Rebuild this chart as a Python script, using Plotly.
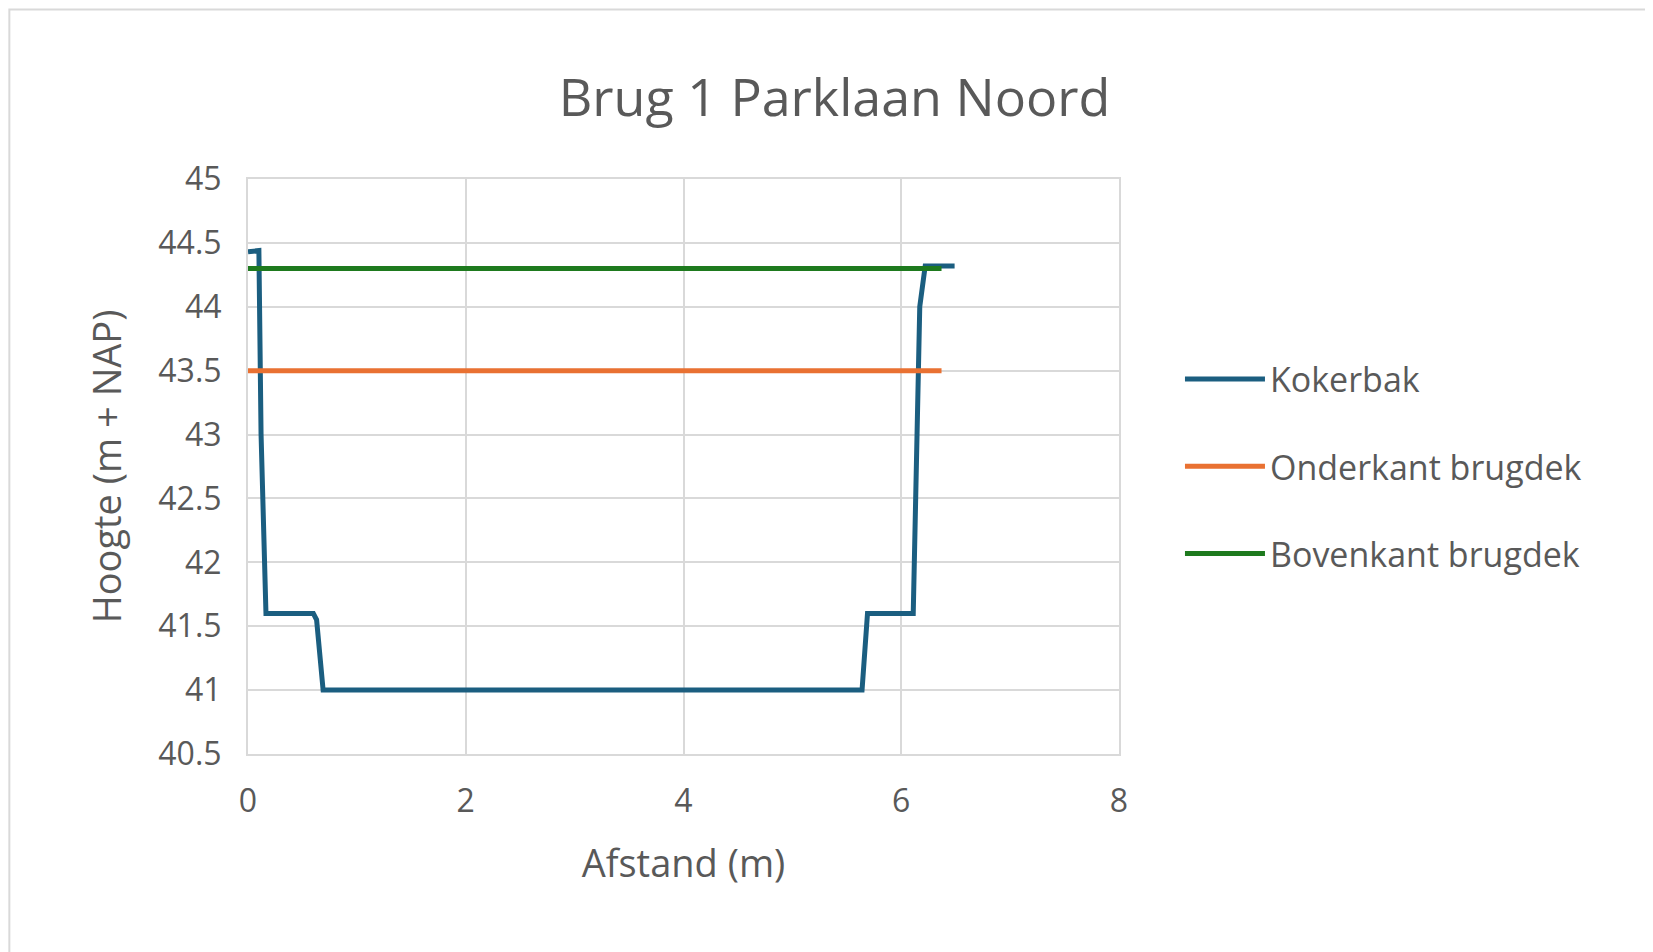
import plotly.graph_objects as go

kx = [0, 0.1, 0.12, 0.165, 0.60, 0.63, 0.69, 5.64, 5.69, 6.11, 6.17, 6.22, 6.49]
ky = [44.43, 44.44, 43.0, 41.60, 41.60, 41.55, 41.0, 41.0, 41.6, 41.6, 44.0, 44.32, 44.32]
ox = [0, 6.37]; oy = [43.5, 43.5]
bx = [0, 6.37]; by = [44.3, 44.3]

fig = go.Figure()
fig.add_trace(go.Scatter(x=kx, y=ky, mode="lines", name="Kokerbak", legendgroup="a", line=dict(color="#1b5e80", width=5)))
fig.add_trace(go.Scatter(x=ox, y=oy, mode="lines", name="Onderkant brugdek", legendgroup="b", line=dict(color="#e97132", width=5)))
fig.add_trace(go.Scatter(x=bx, y=by, mode="lines", name="Bovenkant brugdek", legendgroup="c", line=dict(color="#1e7a1e", width=5)))

grid = "#d9d9d9"
fig.update_layout(
    width=1653, height=952, paper_bgcolor="white", plot_bgcolor="white",
    font=dict(family="Open Sans", color="#595959", size=32),
    title=dict(text="Brug 1 Parklaan Noord", x=0.5, xanchor="center", y=0.925, font=dict(size=52, color="#595959")),
    margin=dict(l=240, r=542, t=171, b=206),
    xaxis=dict(range=[0, 8], dtick=2, showgrid=True, gridcolor=grid, gridwidth=2, showline=True, linecolor=grid, linewidth=2, mirror=True,
               zeroline=False, title=dict(text="Afstand (m)", font=dict(size=38), standoff=30), ticks="", tickfont=dict(size=32),
               ticklabelstandoff=18),
    yaxis=dict(range=[40.5, 45], dtick=0.5, showgrid=True, gridcolor=grid, gridwidth=2, showline=True, linecolor=grid, linewidth=2, mirror=True,
               zeroline=False, title=dict(text="Hoogte (m + NAP)", font=dict(size=38), standoff=25), ticks="", tickfont=dict(size=32),
               ticklabelstandoff=18),
    legend=dict(x=1.07, y=0.5, yanchor="middle", xanchor="left", font=dict(size=34), itemwidth=80, tracegroupgap=40),
    shapes=[dict(type="rect", xref="paper", yref="paper", x0=-0.274, x1=1.620, y0=-0.356, y1=1.295,
                 line=dict(width=2, color="#d9d9d9"))],
)
fig.write_html("out.html")
